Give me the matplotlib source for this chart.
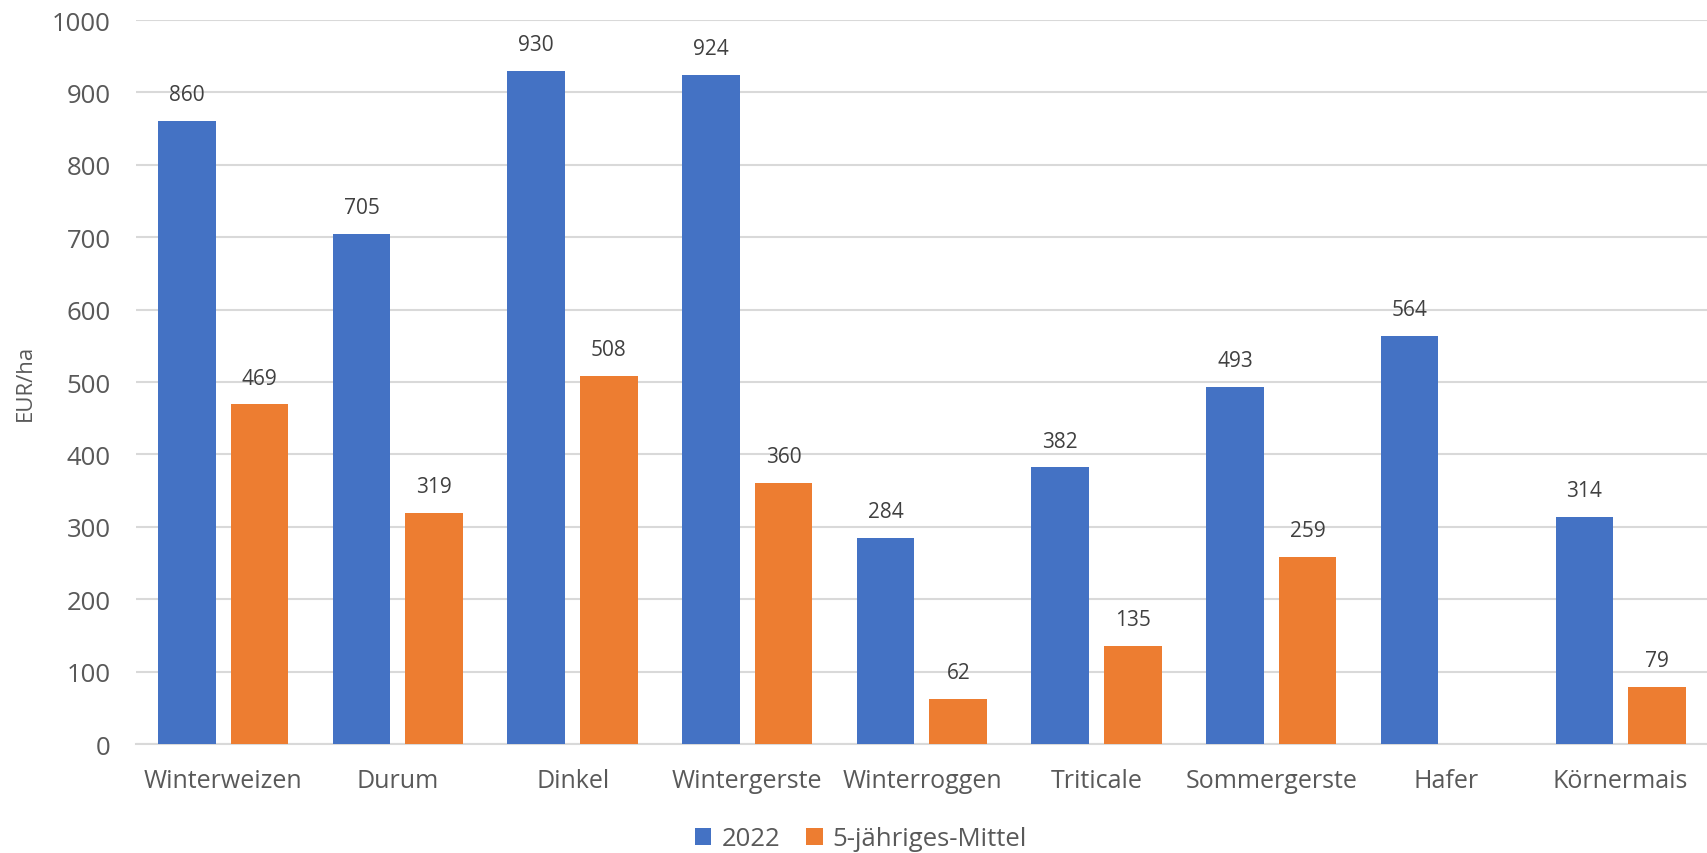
import matplotlib
matplotlib.use("Agg")
import matplotlib.pyplot as plt
import numpy as np

plt.rcParams['font.family'] = ['Open Sans', 'DejaVu Sans']

categories = ["Winterweizen", "Durum", "Dinkel", "Wintergerste", "Winterroggen",
              "Triticale", "Sommergerste", "Hafer", "Körnermais"]
values_2022 = [860, 705, 930, 924, 284, 382, 493, 564, 314]
values_mittel = [469, 319, 508, 360, 62, 135, 259, np.nan, 79]
series_names = ["2022", "5-jähriges-Mittel"]

BLUE = "#4472C4"
ORANGE = "#ED7D31"
TEXT = "#595959"

fig = plt.figure(figsize=(17.08, 8.54), dpi=100)
ax = fig.add_axes([0.0796, 0.1276, 0.9204, 0.8478])

x = np.arange(len(categories))
w = 0.33
off = 0.208
b1 = ax.bar(x - off, values_2022, w, color=BLUE, label=series_names[0], zorder=3)
b2 = ax.bar(x + off, values_mittel, w, color=ORANGE, label=series_names[1], zorder=3)

for bars, vals in ((b1, values_2022), (b2, values_mittel)):
    for rect, v in zip(bars, vals):
        if np.isnan(v):
            continue
        ax.text(rect.get_x() + rect.get_width() / 2, v + 22, "%d" % v,
                ha='center', va='bottom', fontsize=15, color="#404040")

ax.set_xlim(-0.5, len(categories) - 0.5)
ax.set_ylim(0, 1000)
ax.set_yticks(np.arange(0, 1001, 100))
ax.yaxis.grid(True, color="#d9d9d9", linewidth=1.5, zorder=0)
ax.set_axisbelow(True)
for s in ['top', 'right', 'left']:
    ax.spines[s].set_visible(False)
ax.spines['bottom'].set_color("#d9d9d9")
ax.spines['bottom'].set_linewidth(1.5)
ax.tick_params(axis='both', length=0, colors=TEXT, labelsize=18)
ax.tick_params(axis='y', pad=18, labelsize=18.5)
ax.tick_params(axis='x', pad=17)
ax.set_xticks(x)
ax.set_xticklabels(categories)
ax.set_ylabel("EUR/ha", color=TEXT, fontsize=16, labelpad=12)

fig.legend(handles=[b1, b2], loc='lower center', bbox_to_anchor=(0.504, -0.025),
           ncol=2, frameon=False, fontsize=18.5, labelcolor=TEXT,
           handlelength=0.65, handleheight=0.65, columnspacing=1.0, handletextpad=0.4)

fig.savefig("out.png", dpi=100)
